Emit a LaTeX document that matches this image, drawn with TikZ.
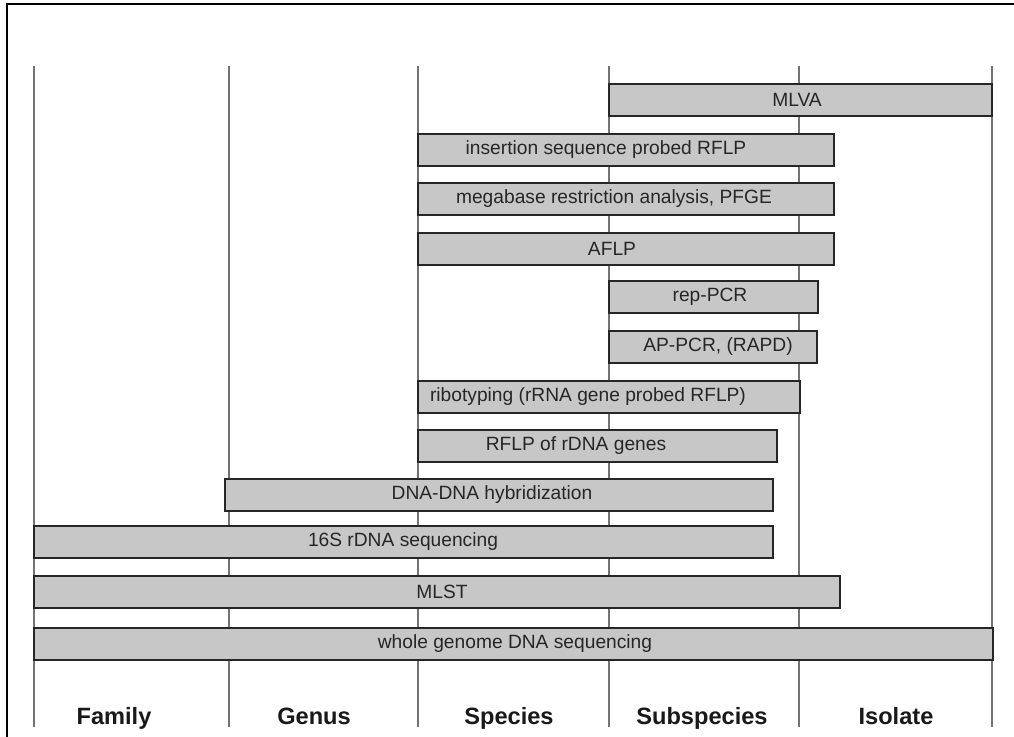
\documentclass[tikz,border=0pt]{standalone}
\usepackage{fontspec}
\setmainfont{Liberation Sans}
\usepackage{tikz}

\tikzset{
    rankline/.style={draw=black!55, line width=0.7pt},
    methodbar/.style={draw=black!85, fill=black!22, line width=0.8pt},
    methodtext/.style={font=\fontsize{9.6}{11}\selectfont, text=black!85, inner sep=0pt},
    ranktext/.style={font=\fontsize{11.8}{13}\selectfont\bfseries, text=black!90, anchor=base, inner sep=0pt}
}

\begin{document}
\begin{tikzpicture}[x=0.5pt, y=-0.5pt]
    \useasboundingbox (0,0) rectangle (1014,737);

    % Outer frame (only left and top edges show)
    \draw[line width=1pt] (7,737) -- (7,4) -- (1014,4);

    % Rank separators
    \foreach \x [count=\c] in {34,229,418,609,799,992} {
        \draw[rankline] (\x,66) coordinate (top\c) -- (\x,727) coordinate (bot\c);
    }

    % Bars: left / right / top / text x / label
    \def\barh{32} % bar height
    \foreach \xa/\xb/\yt/\xt/\txt [count=\i] in {
        609/992/84/797/MLVA,
        418/834/134/606/insertion sequence probed RFLP,
        418/834/183/614/{megabase restriction analysis, PFGE},
        418/834/233/612/AFLP,
        609/818/281/710/rep-PCR,
        609/817/331/718/{AP-PCR, (RAPD)},
        418/800/381/588/ribotyping (rRNA gene probed RFLP),
        418/777/430/576/RFLP of rDNA genes,
        225/773/479/492/DNA-DNA hybridization,
        34/773/526/403/16S rDNA sequencing,
        34/840/576/442/MLST,
        34/993/628/515/whole genome DNA sequencing} {
        \pgfmathsetmacro{\ym}{\yt + \barh/2}
        \draw[methodbar] (\xa,\yt) rectangle (\xb,\yt+\barh);
        \node[methodtext] (bar\i) at (\xt,\ym) {\txt};
    }

    % Rank labels
    \node[ranktext] (family) at (114,725) {Family};
    \node[ranktext] (genus) at (314,725) {Genus};
    \node[ranktext] (species) at (509,725) {Species};
    \node[ranktext] (subspecies) at (702,725) {Subspecies};
    \node[ranktext] (isolate) at (896,725) {Isolate};
\end{tikzpicture}
\end{document}
